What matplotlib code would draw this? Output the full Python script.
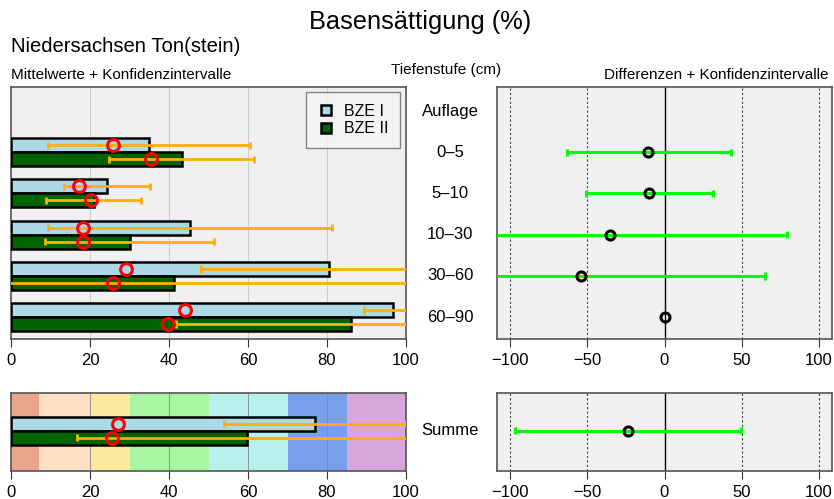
import numpy as np
import matplotlib
matplotlib.use("Agg")
import matplotlib.pyplot as plt
from matplotlib.lines import Line2D

plt.rcParams['font.family'] = ['Liberation Sans', 'DejaVu Sans']

# ---------------- data ----------------
depths = ["Auflage", "0\u20135", "5\u201310", "10\u201330", "30\u201360", "60\u201390"]
bze1_mean = [np.nan, 35.0, 24.4, 45.3, 80.5, 96.8]
bze2_mean = [np.nan, 43.2, 21.0, 30.1, 41.3, 86.2]
bze1_med = [np.nan, 25.9, 17.1, 18.2, 29.2, 44.1]
bze2_med = [np.nan, 35.4, 20.2, 18.3, 25.7, 39.7]
bze1_lo = [np.nan, 9.3, 13.4, 9.3, 48.1, 89.4]
bze1_hi = [np.nan, 60.5, 35.2, 81.3, 118.0, 112.0]
bze2_lo = [np.nan, 24.8, 8.8, 8.6, -5.0, 41.7]
bze2_hi = [np.nan, 61.6, 32.9, 51.3, 125.0, 115.0]

diff = [np.nan, -10.6, -10.0, -35.3, -54.3, 0.2]
diff_lo = [np.nan, -63.4, -51.1, -140.0, -150.0, np.nan]
diff_hi = [np.nan, 42.9, 31.2, 79.2, 64.9, np.nan]

sum_label = "Summe"
sum_bze1_mean, sum_bze2_mean = 77.0, 59.7
sum_bze1_med, sum_bze2_med = 27.2, 25.6
sum_bze1_ci = (54.0, 100.0)
sum_bze2_ci = (16.8, 115.0)
sum_diff, sum_diff_lo, sum_diff_hi = -23.9, -96.8, 49.3

band_edges = [0, 7, 20, 30, 50, 70, 85, 100]
band_colors = ["#E9A58C", "#FDDFC4", "#FBEA9E", "#A8F5A2", "#B8F0EC", "#789FEA", "#D8A6DA"]

c_light = "#ADD8E6"
c_dark = "#006400"
c_orange = "#FFB000"
c_lime = "#00FF00"
bg = "#F0F0F0"

# ---------------- figure ----------------
W, H = 834, 499
fig = plt.figure(figsize=(W / 100, H / 100), dpi=100)

def ax_px(x0, y0, x1, y1):
    return fig.add_axes([x0 / W, 1 - y1 / H, (x1 - x0) / W, (y1 - y0) / H])

axL = ax_px(11, 87, 406, 339)
axR = ax_px(497, 87, 832, 339)
axLb = ax_px(11, 393, 406, 471)
axRb = ax_px(497, 393, 832, 471)

for a in (axL, axR, axLb, axRb):
    a.set_facecolor(bg)
    for s in a.spines.values():
        s.set_color("#555555")
        s.set_linewidth(1.2)
    a.set_yticks([])
    a.tick_params(axis='x', labelsize=12, length=6, width=0.8, color="#333333", pad=4)

pos = np.arange(len(depths))
bh = 0.34

def draw_left(ax, centers, m1, m2, md1, md2, lo1, hi1, lo2, hi2):
    centers = np.asarray(centers, dtype=float)
    ax.barh(centers - bh / 2, m1, height=bh, color=c_light, edgecolor="black", linewidth=1.8, zorder=3)
    ax.barh(centers + bh / 2, m2, height=bh, color=c_dark, edgecolor="black", linewidth=1.8, zorder=3)
    for yy, lo, hi in ((centers - bh / 2, lo1, hi1), (centers + bh / 2, lo2, hi2)):
        lo = np.asarray(lo, dtype=float); hi = np.asarray(hi, dtype=float)
        ax.hlines(yy, lo, hi, color=c_orange, linewidth=2, zorder=4)
        ax.vlines(lo, yy - 0.09, yy + 0.09, color=c_orange, linewidth=2, zorder=4)
        ax.vlines(hi, yy - 0.09, yy + 0.09, color=c_orange, linewidth=2, zorder=4)
    ax.plot(md1, centers - bh / 2, 'o', ms=8.5, mfc='none', mec='red', mew=2.2, zorder=5, linestyle='none')
    ax.plot(md2, centers + bh / 2, 'o', ms=8.5, mfc='none', mec='red', mew=2.2, zorder=5, linestyle='none')
    ax.set_xlim(0, 100)
    ax.set_xticks([0, 20, 40, 60, 80, 100])

# top left
for g in (20, 40, 60, 80):
    axL.axvline(g, color="#CDCDCD", lw=0.8, zorder=1)
draw_left(axL, pos, bze1_mean, bze2_mean, bze1_med, bze2_med, bze1_lo, bze1_hi, bze2_lo, bze2_hi)
axL.set_ylim(5.534, -0.583)

handles = [Line2D([], [], marker='s', ls='none', ms=7, mfc=c_light, mec='black', mew=1.8),
           Line2D([], [], marker='s', ls='none', ms=7, mfc=c_dark, mec='black', mew=1.8)]
leg = axL.legend(handles, ["BZE I", "BZE II"], loc='upper right', fontsize=11.5,
                 frameon=True, fancybox=False, edgecolor="#666666", facecolor="#F4F4F4",
                 handletextpad=0.6, borderpad=0.75, handlelength=1.0, borderaxespad=0,
                 bbox_to_anchor=((400 - 11) / 395, 1 - (92 - 87) / 252), labelspacing=0.15)
leg.get_frame().set_linewidth(1.0)

# bottom left
for i in range(len(band_colors)):
    axLb.axvspan(band_edges[i], band_edges[i + 1], color=band_colors[i], zorder=0, lw=0)
for g in (20, 40, 60, 80):
    axLb.axvline(g, color="#888888", lw=0.6, zorder=1)
draw_left(axLb, [0.0], [sum_bze1_mean], [sum_bze2_mean], [sum_bze1_med], [sum_bze2_med],
          [sum_bze1_ci[0]], [sum_bze1_ci[1]], [sum_bze2_ci[0]], [sum_bze2_ci[1]])
axLb.set_ylim(0.978, -0.915)

# right panels
def draw_right(ax, centers, d, lo, hi):
    for g in (-100, -50, 50, 100):
        ax.axvline(g, color="#444444", lw=0.8, ls=(0, (2, 2)), zorder=1)
    ax.axvline(0, color="black", lw=1.0, zorder=1)
    centers = np.asarray(centers, dtype=float)
    lo = np.asarray(lo, dtype=float); hi = np.asarray(hi, dtype=float)
    ax.hlines(centers, lo, hi, color=c_lime, linewidth=2.2, zorder=3)
    ax.vlines(lo, centers - 0.09, centers + 0.09, color=c_lime, linewidth=2.2, zorder=3)
    ax.vlines(hi, centers - 0.09, centers + 0.09, color=c_lime, linewidth=2.2, zorder=3)
    ax.plot(d, centers, 'o', ms=6.5, mfc='none', mec='black', mew=2.2, ls='none', zorder=4)
    ax.set_xlim(-108.4, 108.4)
    ax.set_xticks([-100, -50, 0, 50, 100])
    ax.set_xticklabels(["\u2212100", "\u221250", "0", "50", "100"])

draw_right(axR, pos, diff, diff_lo, diff_hi)
axR.set_ylim(5.534, -0.583)
draw_right(axRb, [0.0], [sum_diff], [sum_diff_lo], [sum_diff_hi])
axRb.set_ylim(0.978, -0.915)

# depth labels in middle column
mid_x = 450 / W
for p, lab in zip(pos, depths):
    yfig = axL.transData.transform((0, p))[1] / fig.dpi / (H / 100)
    fig.text(mid_x, yfig, lab, ha='center', va='center', fontsize=12)
yfig = axLb.transData.transform((0, 0))[1] / fig.dpi / (H / 100)
fig.text(mid_x, yfig, sum_label, ha='center', va='center', fontsize=12)

# titles
fig.text(420 / W, 1 - 22 / H, "Basens\u00e4ttigung (%)", ha='center', va='center', fontsize=18.3)
fig.text(11 / W, 1 - 47 / H, "Niedersachsen Ton(stein)", ha='left', va='center', fontsize=14.6)
fig.text(11 / W, 1 - 75 / H, "Mittelwerte + Konfidenzintervalle", ha='left', va='center', fontsize=11)
fig.text(446 / W, 1 - 70 / H, "Tiefenstufe (cm)", ha='center', va='center', fontsize=11)
fig.text(828 / W, 1 - 75 / H, "Differenzen + Konfidenzintervalle", ha='right', va='center', fontsize=11)

fig.savefig("out.png", dpi=100)
